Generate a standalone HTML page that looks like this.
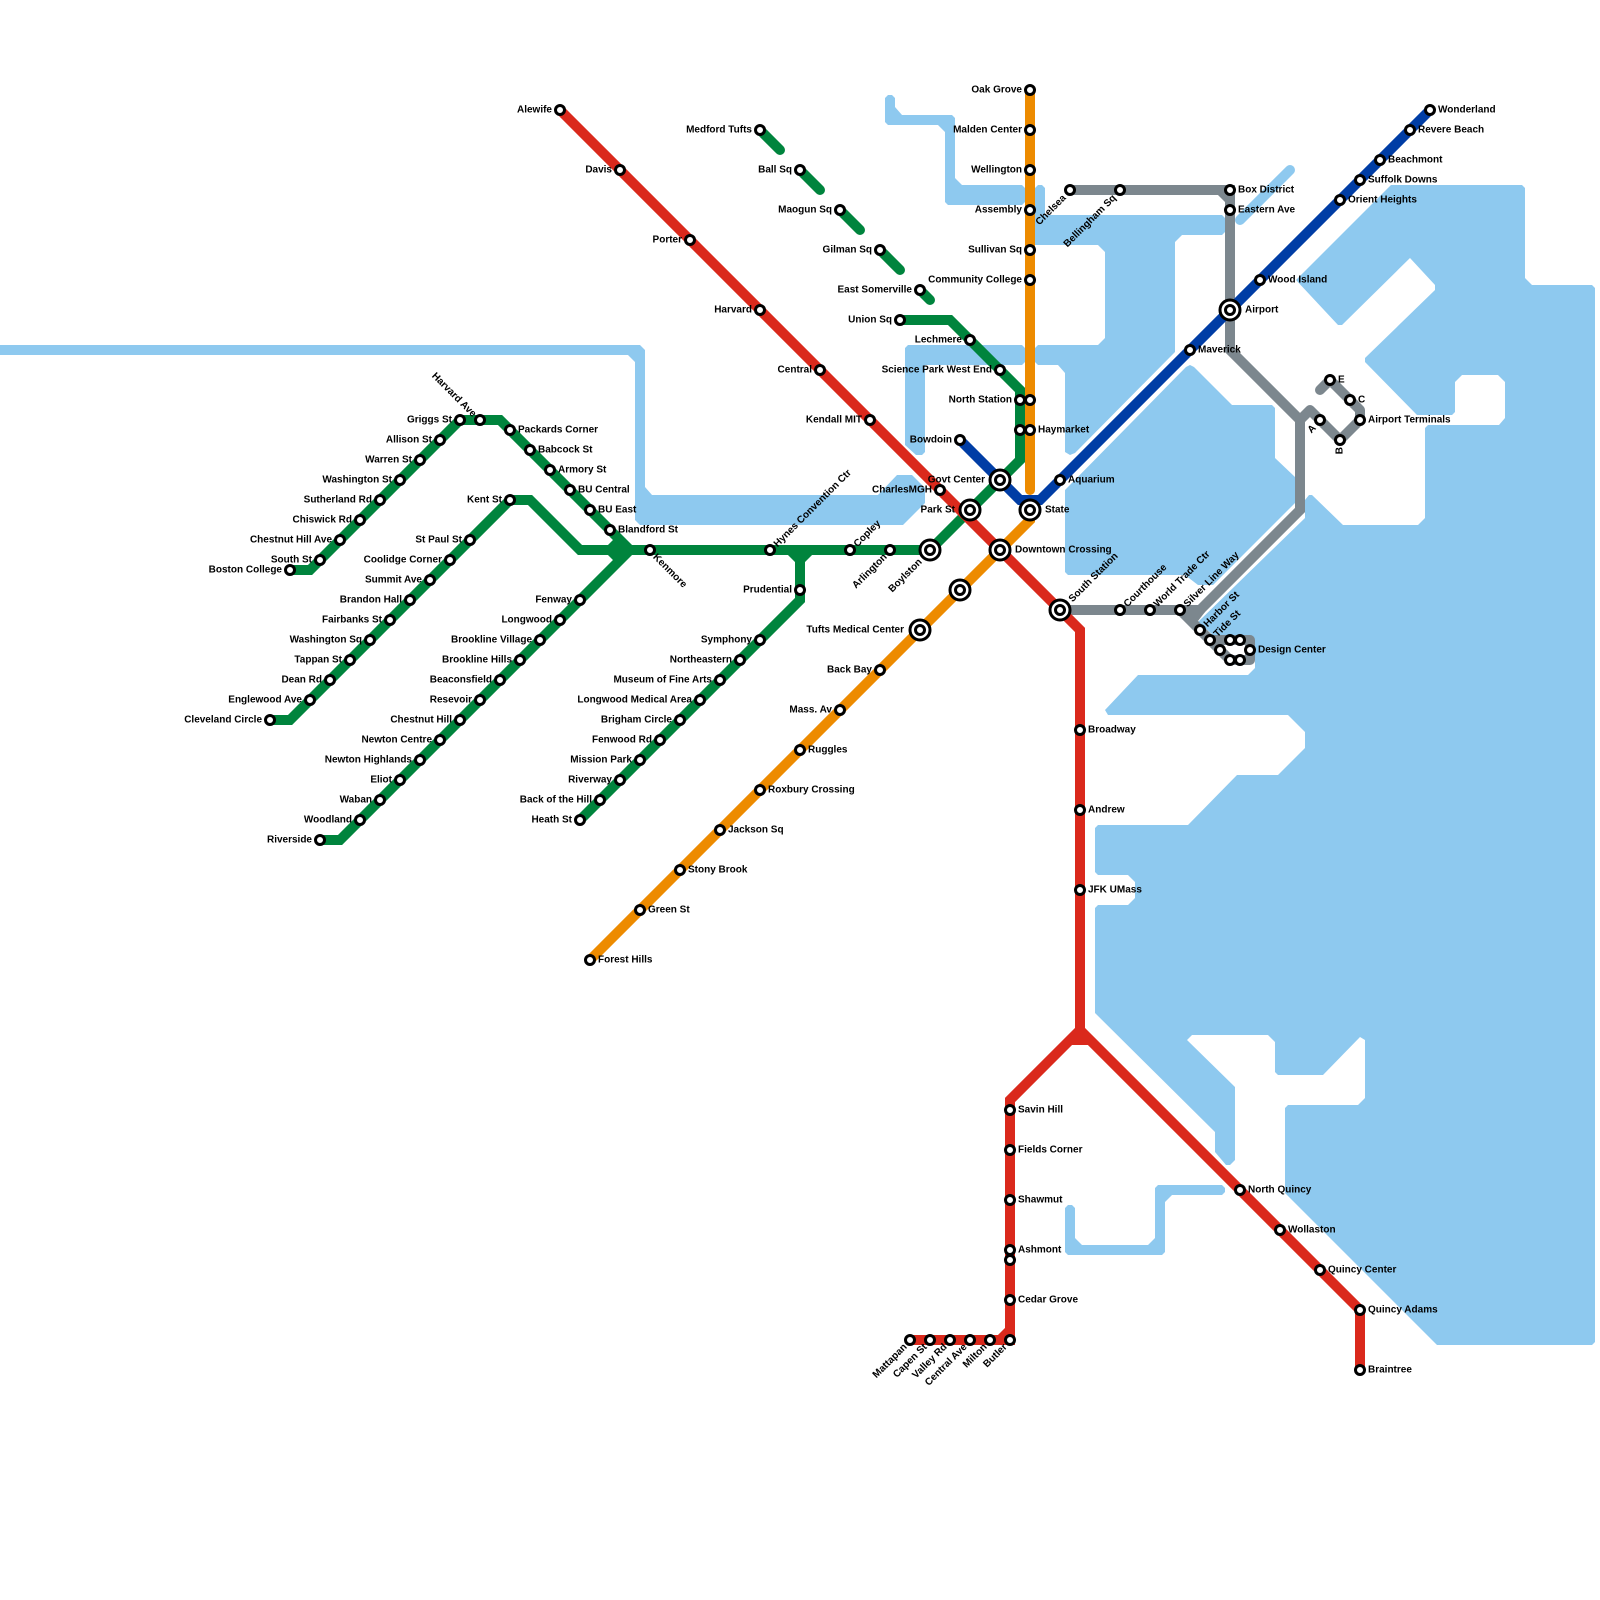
<!DOCTYPE html>
<html><head><meta charset="utf-8"><style>
html,body{margin:0;padding:0;background:#fff}
svg{display:block}
.w{fill:#8ec9ef}
.ln{fill:none;stroke-width:10;stroke-linejoin:miter}
.c{stroke-linecap:round}
circle{fill:#fff;stroke:#000;stroke-width:3}
text{font:bold 10px "Liberation Sans",sans-serif;fill:#000}
.L text{text-anchor:end}
.R text{text-anchor:start}
</style></head><body>
<svg width="1600" height="1600" viewBox="0 0 1600 1600" xmlns="http://www.w3.org/2000/svg">
<rect width="1600" height="1600" fill="#fff"/>
<!-- water -->
<polygon class="w" points="0,345 640,345 645,350 645,487 652,495 878,495 897,475 912,475 925,488 925,503 903,525 640,525 635,520 635,362 628,355 0,355"/>
<polygon class="w" points="885,98 888,95 892,95 895,98 895,107 902,115 952,115 955,118 955,178 962,185 1022,185 1025,188 1025,202 1022,205 948,205 945,202 945,132 938,125 888,125 885,122"/>
<polygon class="w" points="1035,188 1038,185 1042,185 1045,188 1045,215 1222,215 1225,218 1225,232 1222,235 1182,235 1175,242 1175,352 1075,453 1070,455 1065,452 1065,373 1058,365 1038,365 1035,362 1035,348 1038,345 1098,345 1105,338 1105,252 1098,245 1035,245"/>
<polygon class="w" points="905,348 908,345 1022,345 1025,348 1025,362 1022,365 925,365 925,452 922,455 916,455 905,445"/>
<polygon class="w" points="1065,490 1186,367 1190,365 1194,367 1232,405 1272,405 1275,408 1275,458 1295,477 1295,503 1213,585 1198,585 1185,575 1068,575 1065,572"/>
<line x1="1240" y1="220" x2="1290" y2="170" stroke="#8ec9ef" stroke-width="10" stroke-linecap="round"/>
<polygon class="w" points="1296,280 1391,185 1522,185 1525,188 1525,278 1532,285 1592,285 1595,288 1595,1342 1592,1345 1437,1345 1285,1193 1285,1108 1288,1105 1358,1105 1365,1098 1365,1040 1360,1037 1323,1075 1278,1075 1275,1072 1275,1042 1268,1035 1192,1035 1187,1040 1235,1087 1235,1160 1230,1165 1226,1165 1215,1152 1215,1132 1095,1013 1095,908 1098,905 1128,905 1135,898 1135,882 1128,875 1098,875 1095,872 1095,828 1098,825 1188,825 1237,775 1278,775 1305,748 1305,732 1288,715 1108,715 1105,710 1138,675 1248,675 1255,668 1255,643 1247,635 1213,635 1198,622 1305,518 1305,500 1309,495 1312,495 1343,525 1418,525 1425,518 1425,428 1428,425 1499,425 1505,418 1505,382 1498,375 1462,375 1455,382 1455,412 1452,415 1417,415 1365,362 1365,358 1435,290 1435,285 1410,258 1342,325 1338,325"/>
<polygon class="w" points="1065,1208 1068,1205 1072,1205 1075,1208 1075,1238 1082,1245 1148,1245 1155,1238 1155,1188 1158,1185 1222,1185 1225,1188 1225,1192 1222,1195 1172,1195 1165,1202 1165,1252 1162,1255 1068,1255 1065,1252"/>
<!-- lines -->
<g class="ln" stroke="#7c878e">
<path d="M1070 190H1230V350L1300 420V510L1200 610H1060"/>
<path d="M1220 190L1230 200"/>
<path d="M1180 610L1230 660H1250V640H1210" stroke-linejoin="round"/>
<polygon points="1185,612 1205,612 1198,621" fill="#7c878e" stroke="none"/>
<path d="M1300 420L1310 410L1340 440L1360 420V410L1330 380L1320 390" stroke-linecap="round" stroke-linejoin="round"/>
</g>
<g class="ln" stroke="#00843d">
<path d="M290 570H310L460 420H500L630 550"/>
<path d="M270 720H290L510 500H530L580 550H930L1020 460V390L950 320H900"/>
<path d="M320 840H340L630 550"/>
<path d="M580 820L800 600V550"/>
<path d="M610 550L620 540M610 550L620 560M790 550L800 560M810 550L800 560"/>
<path d="M760 130L780 150M800 170L820 190M840 210L860 230M880 250L900 270M920 290L930 300" stroke-linecap="round"/>
</g>
<g class="ln" stroke="#da291c">
<path d="M560 110L1080 630V1030L1360 1310V1370"/>
<path d="M1080 1030L1010 1100V1330L1000 1340H910"/>
<path d="M1070 1040H1090M1000 1340H1010V1330"/>
</g>
<g class="ln" stroke="#ed8b00">
<path d="M1030 90V490" stroke-linecap="round"/>
<path d="M1030 510V520L590 960"/>
</g>
<g class="ln" stroke="#003da5">
<path d="M960 440L1020 500H1040L1430 110"/>
</g>
<!-- stations -->
<g>
<circle cx="560" cy="110" r="4.5"/><circle cx="620" cy="170" r="4.5"/><circle cx="690" cy="240" r="4.5"/><circle cx="760" cy="310" r="4.5"/><circle cx="820" cy="370" r="4.5"/><circle cx="870" cy="420" r="4.5"/><circle cx="940" cy="490" r="4.5"/>
<circle cx="1080" cy="730" r="4.5"/><circle cx="1080" cy="810" r="4.5"/><circle cx="1080" cy="890" r="4.5"/>
<circle cx="1240" cy="1190" r="4.5"/><circle cx="1280" cy="1230" r="4.5"/><circle cx="1320" cy="1270" r="4.5"/><circle cx="1360" cy="1310" r="4.5"/><circle cx="1360" cy="1370" r="4.5"/>
<circle cx="1010" cy="1110" r="4.5"/><circle cx="1010" cy="1150" r="4.5"/><circle cx="1010" cy="1200" r="4.5"/><circle cx="1010" cy="1250" r="4.5"/><circle cx="1010" cy="1260" r="4.5"/><circle cx="1010" cy="1300" r="4.5"/><circle cx="1010" cy="1340" r="4.5"/>
<circle cx="990" cy="1340" r="4.5"/><circle cx="970" cy="1340" r="4.5"/><circle cx="950" cy="1340" r="4.5"/><circle cx="930" cy="1340" r="4.5"/><circle cx="910" cy="1340" r="4.5"/>
<circle cx="1030" cy="90" r="4.5"/><circle cx="1030" cy="130" r="4.5"/><circle cx="1030" cy="170" r="4.5"/><circle cx="1030" cy="210" r="4.5"/><circle cx="1030" cy="250" r="4.5"/><circle cx="1030" cy="280" r="4.5"/><circle cx="1030" cy="400" r="4.5"/><circle cx="1030" cy="430" r="4.5"/>
<circle cx="1020" cy="400" r="4.5"/><circle cx="1020" cy="430" r="4.5"/>
<circle cx="880" cy="670" r="4.5"/><circle cx="840" cy="710" r="4.5"/><circle cx="800" cy="750" r="4.5"/><circle cx="760" cy="790" r="4.5"/><circle cx="720" cy="830" r="4.5"/><circle cx="680" cy="870" r="4.5"/><circle cx="640" cy="910" r="4.5"/><circle cx="590" cy="960" r="4.5"/>
<circle cx="960" cy="440" r="4.5"/><circle cx="1060" cy="480" r="4.5"/><circle cx="1190" cy="350" r="4.5"/><circle cx="1260" cy="280" r="4.5"/><circle cx="1340" cy="200" r="4.5"/><circle cx="1360" cy="180" r="4.5"/><circle cx="1380" cy="160" r="4.5"/><circle cx="1410" cy="130" r="4.5"/><circle cx="1430" cy="110" r="4.5"/>
<circle cx="1070" cy="190" r="4.5"/><circle cx="1120" cy="190" r="4.5"/><circle cx="1230" cy="190" r="4.5"/><circle cx="1230" cy="210" r="4.5"/>
<circle cx="1330" cy="380" r="4.5"/><circle cx="1350" cy="400" r="4.5"/><circle cx="1360" cy="420" r="4.5"/><circle cx="1340" cy="440" r="4.5"/><circle cx="1320" cy="420" r="4.5"/>
<circle cx="1120" cy="610" r="4.5"/><circle cx="1150" cy="610" r="4.5"/><circle cx="1180" cy="610" r="4.5"/><circle cx="1200" cy="630" r="4.5"/><circle cx="1210" cy="640" r="4.5"/><circle cx="1220" cy="650" r="4.5"/><circle cx="1230" cy="640" r="4.5"/><circle cx="1240" cy="640" r="4.5"/><circle cx="1230" cy="660" r="4.5"/><circle cx="1240" cy="660" r="4.5"/><circle cx="1250" cy="650" r="4.5"/>
<circle cx="760" cy="130" r="4.5"/><circle cx="800" cy="170" r="4.5"/><circle cx="840" cy="210" r="4.5"/><circle cx="880" cy="250" r="4.5"/><circle cx="920" cy="290" r="4.5"/><circle cx="900" cy="320" r="4.5"/><circle cx="970" cy="340" r="4.5"/><circle cx="1000" cy="370" r="4.5"/>
<circle cx="290" cy="570" r="4.5"/><circle cx="320" cy="560" r="4.5"/><circle cx="340" cy="540" r="4.5"/><circle cx="360" cy="520" r="4.5"/><circle cx="380" cy="500" r="4.5"/><circle cx="400" cy="480" r="4.5"/><circle cx="420" cy="460" r="4.5"/><circle cx="440" cy="440" r="4.5"/><circle cx="460" cy="420" r="4.5"/><circle cx="480" cy="420" r="4.5"/><circle cx="510" cy="430" r="4.5"/><circle cx="530" cy="450" r="4.5"/><circle cx="550" cy="470" r="4.5"/><circle cx="570" cy="490" r="4.5"/><circle cx="590" cy="510" r="4.5"/><circle cx="610" cy="530" r="4.5"/>
<circle cx="270" cy="720" r="4.5"/><circle cx="310" cy="700" r="4.5"/><circle cx="330" cy="680" r="4.5"/><circle cx="350" cy="660" r="4.5"/><circle cx="370" cy="640" r="4.5"/><circle cx="390" cy="620" r="4.5"/><circle cx="410" cy="600" r="4.5"/><circle cx="430" cy="580" r="4.5"/><circle cx="450" cy="560" r="4.5"/><circle cx="470" cy="540" r="4.5"/><circle cx="510" cy="500" r="4.5"/>
<circle cx="320" cy="840" r="4.5"/><circle cx="360" cy="820" r="4.5"/><circle cx="380" cy="800" r="4.5"/><circle cx="400" cy="780" r="4.5"/><circle cx="420" cy="760" r="4.5"/><circle cx="440" cy="740" r="4.5"/><circle cx="460" cy="720" r="4.5"/><circle cx="480" cy="700" r="4.5"/><circle cx="500" cy="680" r="4.5"/><circle cx="520" cy="660" r="4.5"/><circle cx="540" cy="640" r="4.5"/><circle cx="560" cy="620" r="4.5"/><circle cx="580" cy="600" r="4.5"/>
<circle cx="580" cy="820" r="4.5"/><circle cx="600" cy="800" r="4.5"/><circle cx="620" cy="780" r="4.5"/><circle cx="640" cy="760" r="4.5"/><circle cx="660" cy="740" r="4.5"/><circle cx="680" cy="720" r="4.5"/><circle cx="700" cy="700" r="4.5"/><circle cx="720" cy="680" r="4.5"/><circle cx="740" cy="660" r="4.5"/><circle cx="760" cy="640" r="4.5"/><circle cx="800" cy="590" r="4.5"/>
<circle cx="650" cy="550" r="4.5"/><circle cx="770" cy="550" r="4.5"/><circle cx="850" cy="550" r="4.5"/><circle cx="890" cy="550" r="4.5"/>
<!-- interchanges -->
<circle cx="930" cy="550" r="10"/><circle cx="930" cy="550" r="4.5"/>
<circle cx="970" cy="510" r="10"/><circle cx="970" cy="510" r="4.5"/>
<circle cx="1000" cy="480" r="10"/><circle cx="1000" cy="480" r="4.5"/>
<circle cx="1030" cy="510" r="10"/><circle cx="1030" cy="510" r="4.5"/>
<circle cx="1000" cy="550" r="10"/><circle cx="1000" cy="550" r="4.5"/>
<circle cx="960" cy="590" r="10"/><circle cx="960" cy="590" r="4.5"/>
<circle cx="920" cy="630" r="10"/><circle cx="920" cy="630" r="4.5"/>
<circle cx="1060" cy="610" r="10"/><circle cx="1060" cy="610" r="4.5"/>
<circle cx="1230" cy="310" r="10"/><circle cx="1230" cy="310" r="4.5"/>
</g>
<!-- left labels -->
<g class="L">
<text x="552" y="112.5">Alewife</text><text x="612" y="172.5">Davis</text><text x="682" y="242.5">Porter</text><text x="752" y="312.5">Harvard</text><text x="812" y="372.5">Central</text><text x="862" y="422.5">Kendall MIT</text><text x="932" y="492.5">CharlesMGH</text>
<text x="752" y="132.5">Medford Tufts</text><text x="792" y="172.5">Ball Sq</text><text x="832" y="212.5">Maogun Sq</text><text x="872" y="252.5">Gilman Sq</text><text x="912" y="292.5">East Somerville</text><text x="892" y="322.5">Union Sq</text><text x="962" y="342.5">Lechmere</text><text x="992" y="372.5">Science Park West End</text><text x="1012" y="402.5">North Station</text><text x="952" y="442.5">Bowdoin</text>
<text x="1022" y="92.5">Oak Grove</text><text x="1022" y="132.5">Malden Center</text><text x="1022" y="172.5">Wellington</text><text x="1022" y="212.5">Assembly</text><text x="1022" y="252.5">Sullivan Sq</text><text x="1022" y="282.5">Community College</text>
<text x="452" y="422.5">Griggs St</text><text x="432" y="442.5">Allison St</text><text x="412" y="462.5">Warren St</text><text x="392" y="482.5">Washington St</text><text x="372" y="502.5">Sutherland Rd</text><text x="352" y="522.5">Chiswick Rd</text><text x="332" y="542.5">Chestnut Hill Ave</text><text x="312" y="562.5">South St</text><text x="282" y="572.5">Boston College</text>
<text x="502" y="502.5">Kent St</text><text x="462" y="542.5">St Paul St</text><text x="442" y="562.5">Coolidge Corner</text><text x="422" y="582.5">Summit Ave</text><text x="402" y="602.5">Brandon Hall</text><text x="382" y="622.5">Fairbanks St</text><text x="362" y="642.5">Washington Sq</text><text x="342" y="662.5">Tappan St</text><text x="322" y="682.5">Dean Rd</text><text x="302" y="702.5">Englewood Ave</text><text x="262" y="722.5">Cleveland Circle</text>
<text x="572" y="602.5">Fenway</text><text x="552" y="622.5">Longwood</text><text x="532" y="642.5">Brookline Village</text><text x="512" y="662.5">Brookline Hills</text><text x="492" y="682.5">Beaconsfield</text><text x="472" y="702.5">Resevoir</text><text x="452" y="722.5">Chestnut Hill</text><text x="432" y="742.5">Newton Centre</text><text x="412" y="762.5">Newton Highlands</text><text x="392" y="782.5">Eliot</text><text x="372" y="802.5">Waban</text><text x="352" y="822.5">Woodland</text><text x="312" y="842.5">Riverside</text>
<text x="792" y="592.5">Prudential</text><text x="752" y="642.5">Symphony</text><text x="732" y="662.5">Northeastern</text><text x="712" y="682.5">Museum of Fine Arts</text><text x="692" y="702.5">Longwood Medical Area</text><text x="672" y="722.5">Brigham Circle</text><text x="652" y="742.5">Fenwood Rd</text><text x="632" y="762.5">Mission Park</text><text x="612" y="782.5">Riverway</text><text x="592" y="802.5">Back of the Hill</text><text x="572" y="822.5">Heath St</text>
<text x="872" y="672.5">Back Bay</text><text x="832" y="712.5">Mass. Av</text>
<text x="985" y="482.5">Govt Center</text><text x="955" y="512.5">Park St</text><text x="904" y="632.5">Tufts Medical Center</text>
</g>
<!-- right labels -->
<g class="R">
<text x="518" y="432.5">Packards Corner</text><text x="538" y="452.5">Babcock St</text><text x="558" y="472.5">Armory St</text><text x="578" y="492.5">BU Central</text><text x="598" y="512.5">BU East</text><text x="618" y="532.5">Blandford St</text>
<text x="1038" y="432.5">Haymarket</text><text x="1045" y="512.5">State</text><text x="1015" y="552.5">Downtown Crossing</text><text x="1068" y="482.5">Aquarium</text><text x="1198" y="352.5">Maverick</text><text x="1268" y="282.5">Wood Island</text><text x="1245" y="312.5">Airport</text>
<text x="1348" y="202.5">Orient Heights</text><text x="1368" y="182.5">Suffolk Downs</text><text x="1388" y="162.5">Beachmont</text><text x="1418" y="132.5">Revere Beach</text><text x="1438" y="112.5">Wonderland</text>
<text x="1238" y="192.5">Box District</text><text x="1238" y="212.5">Eastern Ave</text>
<text x="1338" y="382.5">E</text><text x="1358" y="402.5">C</text><text x="1368" y="422.5">Airport Terminals</text><text x="1258" y="652.5">Design Center</text>
<text x="1088" y="732.5">Broadway</text><text x="1088" y="812.5">Andrew</text><text x="1088" y="892.5">JFK UMass</text>
<text x="1018" y="1112.5">Savin Hill</text><text x="1018" y="1152.5">Fields Corner</text><text x="1018" y="1202.5">Shawmut</text><text x="1018" y="1252.5">Ashmont</text><text x="1018" y="1302.5">Cedar Grove</text>
<text x="1248" y="1192.5">North Quincy</text><text x="1288" y="1232.5">Wollaston</text><text x="1328" y="1272.5">Quincy Center</text><text x="1368" y="1312.5">Quincy Adams</text><text x="1368" y="1372.5">Braintree</text>
<text x="808" y="752.5">Ruggles</text><text x="768" y="792.5">Roxbury Crossing</text><text x="728" y="832.5">Jackson Sq</text><text x="688" y="872.5">Stony Brook</text><text x="648" y="912.5">Green St</text><text x="598" y="962.5">Forest Hills</text>
</g>
<!-- rotated up-right -->
<g class="R">
<text y="3.5" transform="translate(775,545) rotate(-45)">Hynes Convention Ctr</text>
<text y="3.5" transform="translate(855,545) rotate(-45)">Copley</text>
<text y="3.5" transform="translate(1070,600) rotate(-45)">South Station</text>
<text y="3.5" transform="translate(1125,605) rotate(-45)">Courthouse</text>
<text y="3.5" transform="translate(1155,605) rotate(-45)">World Trade Ctr</text>
<text y="3.5" transform="translate(1185,605) rotate(-45)">Silver Line Way</text>
<text y="3.5" transform="translate(1205,625) rotate(-45)">Harbor St</text>
<text y="3.5" transform="translate(1215,635) rotate(-45)">Tide St</text>
<text y="3.5" transform="translate(655,555) rotate(45)">Kenmore</text>
</g>
<!-- rotated down-left -->
<g class="L">
<text y="3.5" transform="translate(885,555) rotate(-45)">Arlington</text>
<text y="3.5" transform="translate(920,560) rotate(-45)">Boylston</text>
<text y="3.5" transform="translate(1064,196) rotate(-45)">Chelsea</text>
<text y="3.5" transform="translate(1114,196) rotate(-45)">Bellingham Sq</text>
<text y="3.5" transform="translate(905,1345) rotate(-45)">Mattapan</text>
<text y="3.5" transform="translate(925,1345) rotate(-45)">Capen St</text>
<text y="3.5" transform="translate(945,1345) rotate(-45)">Valley Rd</text>
<text y="3.5" transform="translate(965,1345) rotate(-45)">Central Ave</text>
<text y="3.5" transform="translate(985,1345) rotate(-45)">Milton</text>
<text y="3.5" transform="translate(1005,1345) rotate(-45)">Butler</text>
<text y="3.5" transform="translate(1314,426) rotate(-45)">A</text>
<text y="3.5" transform="translate(475,415) rotate(45)">Harvard Ave</text>
<text y="3.5" transform="translate(1339,447) rotate(-90)">B</text>
</g>
</svg>
</body></html>
